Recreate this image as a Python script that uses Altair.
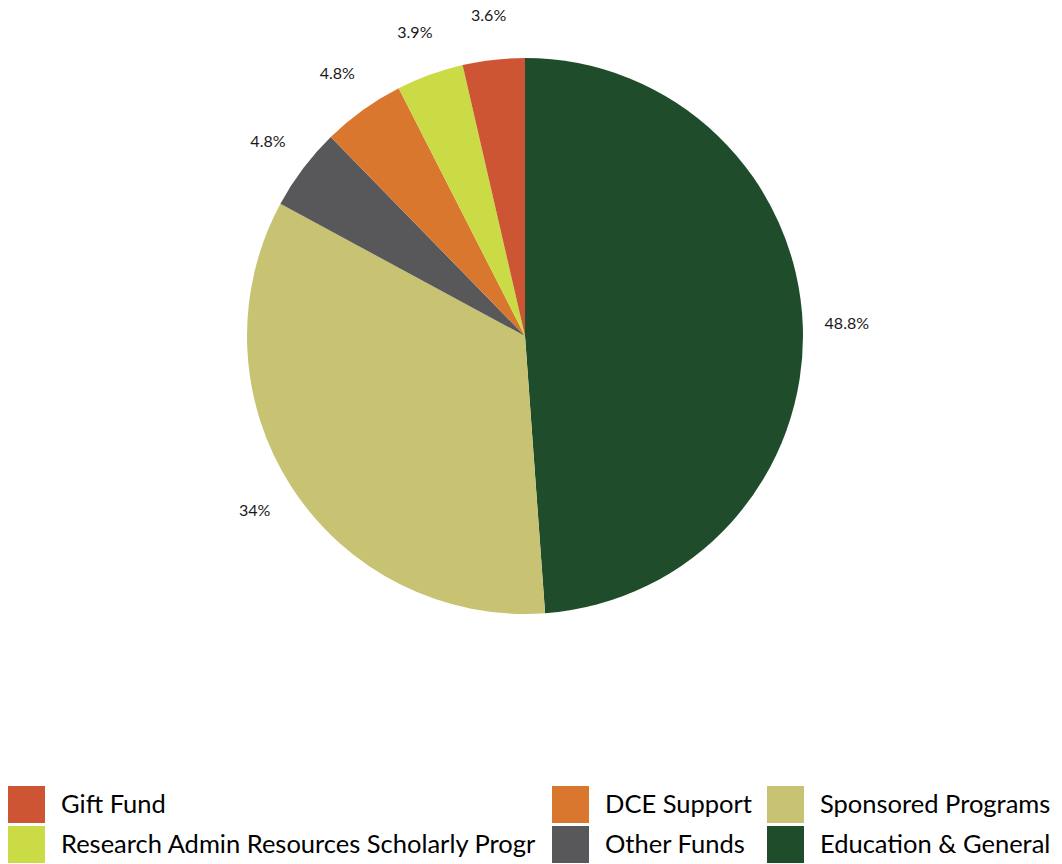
import altair as alt
import pandas as pd

categories = ["Education & General", "Sponsored Programs", "Other Funds", "DCE Support",
              "Research Admin Resources Scholarly Progr", "Gift Fund"]
values = [48.8, 34, 4.8, 4.8, 3.9, 3.6]
labels = ["48.8%", "34%", "4.8%", "4.8%", "3.9%", "3.6%"]

legend_order = ["Gift Fund", "Research Admin Resources Scholarly Progr", "DCE Support",
                "Other Funds", "Sponsored Programs", "Education & General"]
legend_colors = ["#CD5533", "#CADB46", "#D9772E", "#58585A", "#C8C373", "#1F4D2C"]

df = pd.DataFrame({
    "category": categories,
    "value": values,
    "label": labels,
    "order": list(range(len(categories))),
})

FONT = "Lato"

base = alt.Chart(df).encode(
    theta=alt.Theta("value:Q", stack=True),
    order=alt.Order("order:Q"),
)

arcs = base.mark_arc(outerRadius=278).encode(
    color=alt.Color(
        "category:N",
        scale=alt.Scale(domain=legend_order, range=legend_colors),
        legend=alt.Legend(
            title=None,
            orient="none",
            legendX=0,
            legendY=778,
            columns=3,
            symbolType="square",
            symbolSize=1369,
            symbolStrokeWidth=0,
            labelFont=FONT,
            labelFontSize=25.5,
            labelColor="#000000",
            labelLimit=700,
            labelOffset=16,
            columnPadding=15,
            rowPadding=3,
            padding=0,
        ),
    )
)

text = base.mark_text(radius=322, font=FONT, fontSize=16, color="#1a1a1a").encode(
    text="label:N"
)

chart = (
    (arcs + text)
    .properties(width=1034, height=656, padding=0)
    .configure_view(stroke=None)
)

chart.save("out.html", embed_options={"renderer": "svg", "actions": False})
